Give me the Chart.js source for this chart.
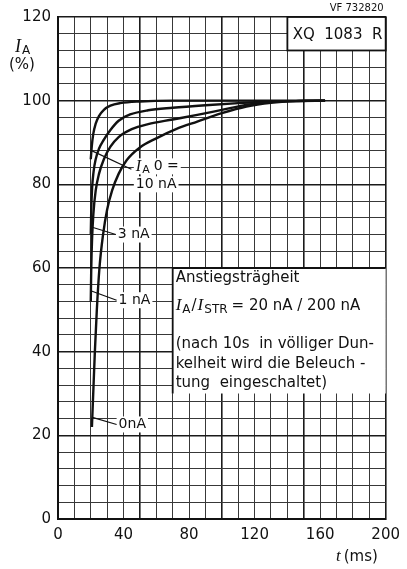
<!DOCTYPE html>
<html>
<head>
<meta charset="utf-8">
<script src="https://cdn.jsdelivr.net/npm/chart.js@4.4.1/dist/chart.umd.min.js"></script>
<style>
  html, body { margin: 0; padding: 0; background: #fff; }
</style>
</head>
<body>
<canvas id="chart" width="407" height="569"></canvas>
<script>
// Rise of anode current after switching on the light, one curve per dark current I_A0
const t10nA = [20, 20.6, 21.5, 23, 25, 28, 32, 38, 50, 70, 163];
const i10nA = [86, 89, 92, 94.5, 96.3, 97.8, 98.8, 99.4, 99.8, 100, 100];

const t3nA = [20, 20.3, 20.8, 21.7, 23, 25, 28, 32, 37, 44, 55, 70, 90, 110, 130, 163];
const i3nA = [68, 74, 79, 83, 86, 88.5, 90.7, 93, 95.2, 96.7, 97.7, 98.3, 98.9, 99.4, 99.8, 100];

const t1nA = [20, 20.3, 20.8, 21.6, 23, 25, 28, 32, 37, 45, 55, 70, 85, 100, 115, 130, 163];
const i1nA = [52, 60, 67, 73, 78.5, 82.5, 86, 89, 91.3, 93.2, 94.4, 95.5, 96.6, 97.8, 99, 99.7, 100];

const t0nA = [20.7, 21.5, 22.5, 23.7, 25.3, 27.5, 30, 33, 37, 42, 50, 60, 72, 85, 100, 115, 130, 145, 163];
const i0nA = [22, 30, 40, 50, 60, 68, 74, 78.5, 82.5, 85.8, 88.8, 91, 93.2, 95, 97, 98.6, 99.5, 99.9, 100];

const xTickLabels = [0, 40, 80, 120, 160, 200];
const yTickLabels = [0, 20, 40, 60, 80, 100, 120];

const SANS = '"DejaVu Sans", sans-serif';
const SERIF = '"Liberation Serif", serif';
const INK = "#111";

function toPoints(ts, vs) {
  return ts.map((t, i) => ({ x: t, y: vs[i] }));
}

function curve(ts, vs) {
  return {
    data: toPoints(ts, vs),
    borderColor: INK,
    borderWidth: 2.4,
    pointRadius: 0,
    fill: false,
    cubicInterpolationMode: "monotone"
  };
}

// draws a row of text pieces (italic I, subscripts ...) starting at x
function drawPieces(ctx, x, y, pieces) {
  ctx.textBaseline = "middle";
  ctx.textAlign = "left";
  pieces.forEach(p => {
    ctx.font = p.font;
    ctx.fillText(p.text, x, y + (p.dy || 0));
    x += ctx.measureText(p.text).width + (p.gap || 0);
  });
  return x;
}

function piecesWidth(ctx, pieces) {
  let w = 0;
  pieces.forEach(p => {
    ctx.font = p.font;
    w += ctx.measureText(p.text).width + (p.gap || 0);
  });
  return w;
}

// curve labels with a white backing and leader line to the curve
const curveLabels = [
  { at: [47.5, 84.3], from: [20.8, 88], to: [46, 83.6],
    pieces: [
      { text: "I", font: "italic 16px " + SERIF, gap: 1 },
      { text: "A", font: "11px " + SANS, dy: 4, gap: 4 },
      { text: "0 =", font: "14px " + SANS }
    ] },
  { at: [47.5, 80], pieces: [{ text: "10 nA", font: "14px " + SANS }] },
  { at: [36.5, 68], from: [20.4, 69.8], to: [36.5, 68],
    pieces: [{ text: "3 nA", font: "14px " + SANS }] },
  { at: [37, 52.3], from: [20.4, 54.5], to: [37, 52.3],
    pieces: [{ text: "1 nA", font: "14px " + SANS }] },
  { at: [37, 22.6], from: [21, 24.3], to: [37, 22.6],
    pieces: [{ text: "0nA", font: "14px " + SANS }] }
];

const notes = {
  id: "notes",
  beforeDatasetsDraw(chart) {
    const { ctx, chartArea: area, scales: { x, y } } = chart;
    ctx.save();
    ctx.fillStyle = INK;
    ctx.strokeStyle = INK;

    // type box, top right
    const bx = x.getPixelForValue(140), by = y.getPixelForValue(112);
    ctx.fillStyle = "#fff";
    ctx.fillRect(bx, area.top, area.right - bx, by - area.top);
    ctx.lineWidth = 1.8;
    ctx.strokeRect(bx, area.top, area.right - bx, by - area.top);
    ctx.fillStyle = INK;
    ctx.font = "15px " + SANS;
    ctx.textAlign = "center";
    ctx.textBaseline = "middle";
    ctx.fillText("XQ  1083  R", (bx + area.right) / 2 + 1, (area.top + by) / 2 + 1);

    // description box
    const nx = x.getPixelForValue(70), ny = y.getPixelForValue(60), nb = y.getPixelForValue(30);
    ctx.fillStyle = "#fff";
    ctx.fillRect(nx, ny, area.right - nx, nb - ny);
    ctx.beginPath();
    ctx.moveTo(nx, nb);
    ctx.lineTo(nx, ny);
    ctx.lineTo(area.right, ny);
    ctx.lineWidth = 1.8;
    ctx.stroke();
    ctx.fillStyle = INK;
    const tx = nx + 3;
    const f15 = "15px " + SANS;
    drawPieces(ctx, tx, ny + 10, [{ text: "Anstiegsträgheit", font: f15 }]);
    drawPieces(ctx, tx, ny + 38, [
      { text: "I", font: "italic 17px " + SERIF, gap: 1 },
      { text: "A", font: "12px " + SANS, dy: 4, gap: 1 },
      { text: "/", font: f15, gap: 1 },
      { text: "I", font: "italic 17px " + SERIF, gap: 1 },
      { text: "STR", font: "12px " + SANS, dy: 4, gap: 4 },
      { text: "= 20 nA / 200 nA", font: f15 }
    ]);
    drawPieces(ctx, tx, ny + 76, [{ text: "(nach 10s  in völliger Dun-", font: f15 }]);
    drawPieces(ctx, tx, ny + 96, [{ text: "kelheit wird die Beleuch -", font: f15 }]);
    drawPieces(ctx, tx, ny + 115, [{ text: "tung  eingeschaltet)", font: f15 }]);

    // curve labels
    curveLabels.forEach(l => {
      const lx = x.getPixelForValue(l.at[0]), ly = y.getPixelForValue(l.at[1]);
      const w = piecesWidth(ctx, l.pieces);
      ctx.fillStyle = "#fff";
      ctx.fillRect(lx - 2, ly - 8, w + 4, 16);
      ctx.fillStyle = INK;
      drawPieces(ctx, lx, ly, l.pieces);
      if (l.from) {
        ctx.beginPath();
        ctx.moveTo(x.getPixelForValue(l.from[0]), y.getPixelForValue(l.from[1]));
        ctx.lineTo(x.getPixelForValue(l.to[0]) - 2, y.getPixelForValue(l.to[1]));
        ctx.lineWidth = 1.2;
        ctx.stroke();
      }
    });
    ctx.restore();
  },
  afterDraw(chart) {
    const { ctx, chartArea: area } = chart;
    ctx.save();
    ctx.fillStyle = INK;
    // axis titles
    drawPieces(ctx, 15, 47, [
      { text: "I", font: "italic 18px " + SERIF, gap: 1 },
      { text: "A", font: "12px " + SANS, dy: 4 }
    ]);
    drawPieces(ctx, 9, 65, [{ text: "(%)", font: "15px " + SANS }]);
    drawPieces(ctx, 336, 557, [
      { text: "t", font: "italic 17px " + SERIF, gap: 3 },
      { text: "(ms)", font: "15px " + SANS }
    ]);
    // drawing number
    ctx.font = "10px " + SANS;
    ctx.textAlign = "right";
    ctx.textBaseline = "middle";
    ctx.fillText("VF 732820", area.right - 2, 8);
    ctx.restore();
  }
};

new Chart(document.getElementById("chart"), {
  type: "line",
  data: {
    datasets: [
      curve(t10nA, i10nA),
      curve(t3nA, i3nA),
      curve(t1nA, i1nA),
      curve(t0nA, i0nA)
    ]
  },
  options: {
    responsive: false,
    animation: false,
    events: [],
    layout: { padding: { top: 17, right: 16, left: 0, bottom: 0 } },
    plugins: { legend: { display: false }, tooltip: { enabled: false } },
    scales: {
      x: {
        type: "linear",
        min: 0,
        max: 200,
        afterFit(s) { s.height = 50; },
        border: { width: 2, color: INK },
        grid: {
          drawTicks: false,
          color: c => (c.tick && c.tick.value % 50 === 0) ? "#1a1a1a" : "#383838",
          lineWidth: c => (c.tick && (c.tick.value % 50 === 0 || c.tick.value === 200)) ? 1.6 : 1
        },
        ticks: {
          stepSize: 10,
          autoSkip: false,
          maxRotation: 0,
          padding: 7,
          color: INK,
          font: { family: SANS, size: 15 },
          callback: v => xTickLabels.includes(v) ? String(v) : ""
        }
      },
      y: {
        min: 0,
        max: 120,
        afterFit(s) { s.width = 58; },
        border: { width: 2, color: INK },
        grid: {
          drawTicks: false,
          color: c => (c.tick && c.tick.value % 20 === 0) ? "#1a1a1a" : "#383838",
          lineWidth: c => (c.tick && c.tick.value % 20 === 0) ? 1.6 : 1
        },
        ticks: {
          stepSize: 4,
          autoSkip: false,
          padding: 7,
          color: INK,
          font: { family: SANS, size: 15 },
          callback: v => yTickLabels.includes(v) ? String(v) : ""
        }
      }
    }
  },
  plugins: [notes]
});
</script>
</body>
</html>
